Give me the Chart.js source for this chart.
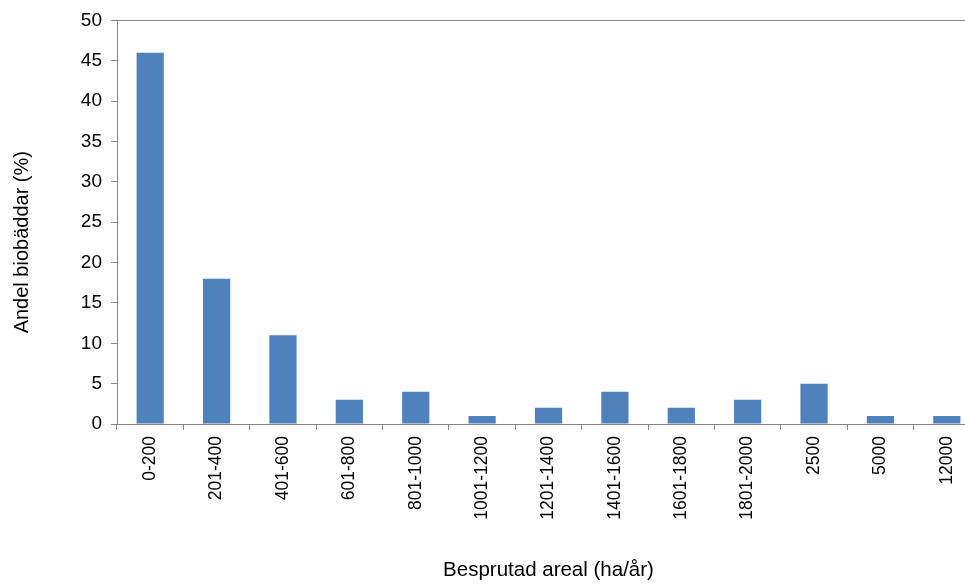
<!DOCTYPE html>
<html>
<head>
<meta charset="utf-8">
<script src="https://cdn.jsdelivr.net/npm/chart.js@4/dist/chart.umd.min.js"></script>
<style>
  html, body { margin: 0; padding: 0; background: #fff; overflow: hidden; }
  #wrap { width: 980px; height: 585px; }
</style>
</head>
<body>
<div id="wrap"><canvas id="c" width="980" height="585"></canvas></div>
<script>
// Besprutad areal per gård (ha/år) och andel biobäddar i varje klass
const categories = ['0-200', '201-400', '401-600', '601-800', '801-1000', '1001-1200',
  '1201-1400', '1401-1600', '1601-1800', '1801-2000', '2500', '5000', '12000'];
const shares = [46, 18, 11, 3, 4, 1, 2, 4, 2, 3, 5, 1, 1];
const yTicks = [0, 5, 10, 15, 20, 25, 30, 35, 40, 45, 50];
const yTitle = 'Andel biobäddar (%)';
const xTitle = 'Besprutad areal (ha/år)';

const axisGray = '#868686';
const fontFamily = '"Liberation Sans", Arial, sans-serif';

// Vertical y-axis title, drawn beside the tick labels
const yTitlePlugin = {
  id: 'yTitle',
  afterDraw(chart) {
    const { ctx, chartArea } = chart;
    ctx.save();
    ctx.font = '20px ' + fontFamily;
    ctx.fillStyle = '#000';
    ctx.textAlign = 'center';
    ctx.textBaseline = 'middle';
    ctx.translate(22, (chartArea.top + chartArea.bottom) / 2 + 20);
    ctx.rotate(-Math.PI / 2);
    ctx.fillText(yTitle, 0, 0);
    ctx.restore();
  }
};

new Chart(document.getElementById('c'), {
  type: 'bar',
  data: {
    labels: categories,
    datasets: [{
      data: shares,
      backgroundColor: '#4F81BD',
      borderWidth: 0,
      categoryPercentage: 1,
      barPercentage: 0.41
    }]
  },
  options: {
    responsive: false,
    animation: false,
    layout: { padding: { top: 8, left: 0, right: 0, bottom: 2 } },
    plugins: { legend: { display: false }, tooltip: { enabled: false } },
    scales: {
      x: {
        offset: true,
        afterFit: (s) => { s.height = 159; },
        grid: {
          offset: true,
          drawOnChartArea: false,
          color: axisGray,
          tickLength: 6
        },
        border: { color: axisGray, width: 1 },
        ticks: {
          color: '#000',
          font: { family: fontFamily, size: 17.5 },
          minRotation: 90,
          maxRotation: 90,
          padding: 6,
          autoSkip: false
        },
        title: {
          display: true,
          text: xTitle,
          color: '#000',
          font: { family: fontFamily, size: 20.5 },
          padding: { top: 0, bottom: 0 }
        }
      },
      y: {
        min: 0,
        max: 50,
        afterBuildTicks: (s) => { s.ticks = yTicks.map(v => ({ value: v })); },
        afterFit: (s) => { s.width = 117; },
        grid: {
          color: (ctx) => ctx.tick && ctx.tick.value === 50 ? axisGray : 'rgba(0,0,0,0)',
          tickColor: axisGray,
          tickLength: 6
        },
        border: { color: axisGray, width: 1 },
        ticks: {
          color: '#000',
          font: { family: fontFamily, size: 19 },
          padding: 9
        }
      }
    }
  },
  plugins: [yTitlePlugin]
});
</script>
</body>
</html>
